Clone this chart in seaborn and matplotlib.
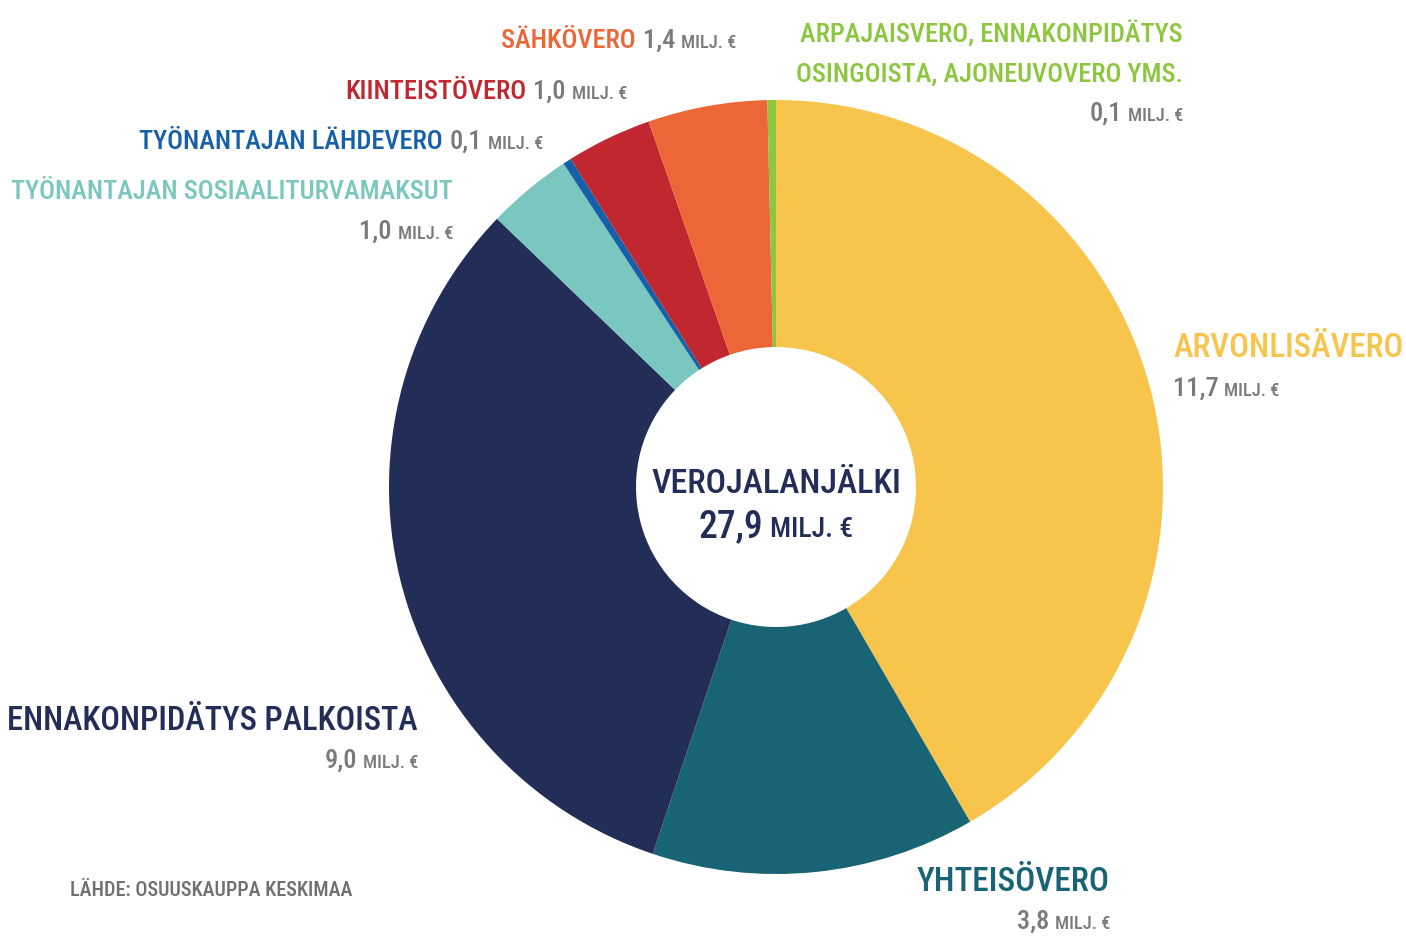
import numpy as np
import matplotlib
matplotlib.use("Agg")
import matplotlib.pyplot as plt
import seaborn as sns

# data, clockwise from 12 o'clock
categories = ["ARVONLISÄVERO", "YHTEISÖVERO", "ENNAKONPIDÄTYS PALKOISTA",
              "TYÖNANTAJAN SOSIAALITURVAMAKSUT", "TYÖNANTAJAN LÄHDEVERO",
              "KIINTEISTÖVERO", "SÄHKÖVERO",
              "ARPAJAISVERO, ENNAKONPIDÄTYS\nOSINGOISTA, AJONEUVOVERO YMS."]
values = [11.7, 3.8, 9.0, 1.0, 0.1, 1.0, 1.4, 0.1]
colors = ["#F7C44C", "#186374", "#232E58", "#79C7BE", "#1560A8",
          "#C1272E", "#EC6637", "#8DC63F"]
total_value = 27.9
center_title = "VEROJALANJÄLKI"
unit = "MILJ. €"
source = "LÄHDE: OSUUSKAUPPA KESKIMAA"

GRAY = "#7A7A7A"
W, H = 1406, 936

sns.set_theme(style="white")
plt.rcParams['font.family'] = ['Roboto Condensed', 'Liberation Sans Narrow',
                               'DejaVu Sans Condensed', 'DejaVu Sans']
plt.rcParams['font.weight'] = 'medium'

fig = plt.figure(figsize=(W / 100, H / 100), dpi=100)
ax = fig.add_axes([0, 0, 1, 1])

cx, cy, r_out, r_in = 776, H - 487, 387, 140
ax.pie(values, colors=colors, startangle=90, counterclock=False,
       radius=r_out, center=(cx, cy),
       wedgeprops=dict(width=r_out - r_in, edgecolor="none", linewidth=0))
ax.set_xlim(0, W)
ax.set_ylim(0, H)
ax.set_aspect("equal")
ax.axis("off")

renderer = fig.canvas.get_renderer()


def fmt(v):
    return "{:.1f}".format(v).replace(".", ",")


def rich(x, y, parts, ha="left"):
    """draw pieces of text on one baseline; parts = (text, color, size, gap)"""
    objs = []
    cur = x
    for s, c, fs, gap in parts:
        cur += gap
        t = ax.text(cur, y, s, color=c, fontsize=fs, ha="left", va="baseline")
        cur += t.get_window_extent(renderer=renderer).width
        objs.append(t)
    width = cur - x
    shift = {"left": 0, "right": -width, "center": -width / 2}[ha]
    for t in objs:
        px, py = t.get_position()
        t.set_position((px + shift, py))
    return objs


def value_parts(v, fs, lead=0):
    return [(fmt(v), GRAY, fs, lead), (unit, GRAY, fs * 0.7, fs * 0.3)]


fs = 19
# Sähkövero
rich(736, H - 48, [(categories[6], colors[6], fs, 0)] + value_parts(values[6], fs, 7), ha="right")
# Kiinteistövero
rich(627, H - 99, [(categories[5], colors[5], fs, 0)] + value_parts(values[5], fs, 7), ha="right")
# Työnantajan lähdevero
rich(543, H - 149, [(categories[4], colors[4], fs, 0)] + value_parts(values[4], fs, 7), ha="right")
# Työnantajan sosiaaliturvamaksut
rich(453, H - 199, [(categories[3], colors[3], fs, 0)], ha="right")
rich(453, H - 239, value_parts(values[3], fs), ha="right")
# Arpajaisvero ...
line1, line2 = categories[7].split("\n")
rich(1183, H - 42, [(line1, colors[7], fs, 0)], ha="right")
rich(1183, H - 82, [(line2, colors[7], fs, 0)], ha="right")
rich(1183, H - 121, value_parts(values[7], fs), ha="right")
# Arvonlisävero
rich(1173, H - 357, [(categories[0], colors[0], 23.8, 0)], ha="left")
rich(1173, H - 396, value_parts(values[0], fs), ha="left")
# Ennakonpidätys palkoista
rich(418, H - 730, [(categories[2], colors[2], 23.5, 0)], ha="right")
rich(418, H - 768, value_parts(values[2], fs), ha="right")
# Yhteisövero
rich(1110, H - 891, [(categories[1], colors[1], 24, 0)], ha="right")
rich(1110, H - 929, value_parts(values[1], fs), ha="right")

# centre label
rich(cx, H - 493, [(center_title, colors[2], 24.5, 0)], ha="center")
rich(cx, H - 537, [(fmt(total_value), colors[2], 27, 0),
                   (unit, colors[2], 20, 7)], ha="center")

# source
rich(70, H - 896, [(source, "#707070", 14.5, 0)], ha="left")

fig.savefig("out.png", dpi=100, facecolor="white")
